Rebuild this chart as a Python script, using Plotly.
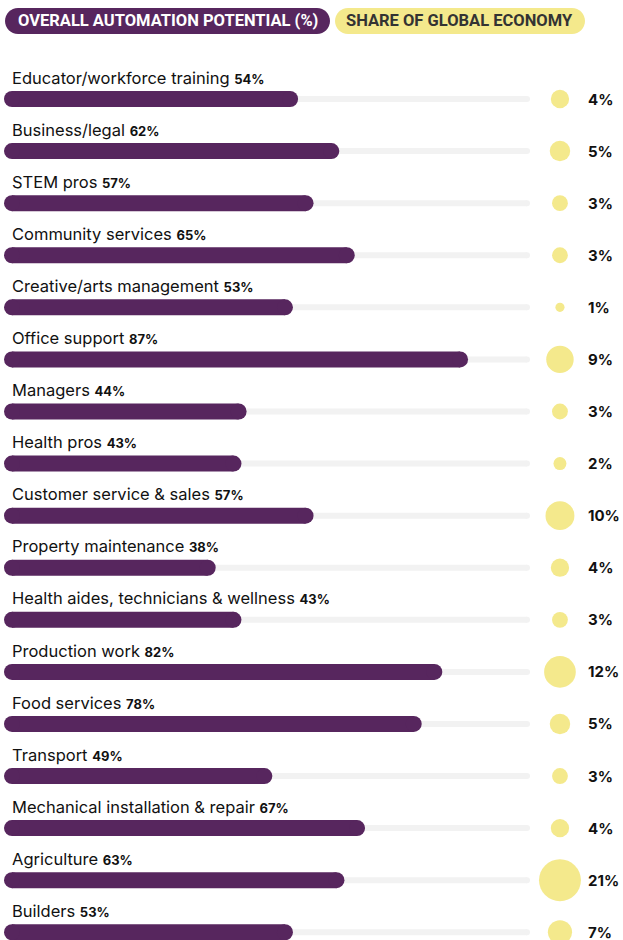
import plotly.graph_objects as go

categories = [
    "Educator/workforce training", "Business/legal", "STEM pros", "Community services",
    "Creative/arts management", "Office support", "Managers", "Health pros",
    "Customer service & sales", "Property maintenance", "Health aides, technicians & wellness",
    "Production work", "Food services", "Transport", "Mechanical installation & repair",
    "Agriculture", "Builders",
]
automation = [54, 62, 57, 65, 53, 87, 44, 43, 57, 38, 43, 82, 78, 49, 67, 63, 53]
share = [4, 5, 3, 3, 1, 9, 3, 2, 10, 4, 3, 12, 5, 3, 4, 21, 7]
legend_labels = ["OVERALL AUTOMATION POTENTIAL (%)", "SHARE OF GLOBAL ECONOMY"]

PURPLE = "#57265e"
YELLOW = "#f4e98c"
TRACK = "#f2f2f2"
W, H = 623, 940

n = len(categories)
rows = list(range(n))

BUBBLE_X = 106.4
VALUE_X = 111.5
FULL = 100

fig = go.Figure()

tx, ty = [], []
for i in rows:
    tx += [0, FULL, None]
    ty += [i, i, None]
fig.add_trace(go.Scatter(x=tx, y=ty, mode="lines+markers",
                         line=dict(color=TRACK, width=6),
                         marker=dict(color=TRACK, size=6),
                         hoverinfo="skip", showlegend=False))

bx, by = [], []
for i, v in zip(rows, automation):
    bx += [0, v, None]
    by += [i, i, None]
fig.add_trace(go.Scatter(x=bx, y=by, mode="lines+markers",
                         line=dict(color=PURPLE, width=16),
                         marker=dict(color=PURPLE, size=16),
                         hoverinfo="skip", showlegend=False))

fig.add_trace(go.Scatter(x=[BUBBLE_X] * n, y=rows, mode="markers",
                         marker=dict(color=YELLOW, size=share, sizemode="area",
                                     sizeref=0.0239, opacity=1, line=dict(width=0)),
                         hoverinfo="skip", showlegend=False))

annotations = []
for i, (c, v, s) in enumerate(zip(categories, automation, share)):
    annotations.append(dict(
        x=-0.35, y=i - 0.41, xref="x", yref="y", xanchor="left", yanchor="middle",
        text=f"{c} <b><span style='font-size:13px'>{v}%</span></b>",
        showarrow=False, font=dict(family="Inter", size=16.5, color="#111111")))
    annotations.append(dict(
        x=VALUE_X, y=i, xref="x", yref="y", xanchor="left", yanchor="middle",
        text=f"<b>{s}%</b>", showarrow=False,
        font=dict(family="Inter", size=15, color="#111111")))


def pill(x0, x1, y0, y1, color):
    r = (y1 - y0) / 2
    k = 0.5523 * r
    yt, yb, ym = -y0, -y1, -(y0 + y1) / 2
    path = (f"M {x0 + r},{yt} L {x1 - r},{yt} "
            f"C {x1 - r + k},{yt} {x1},{ym + k} {x1},{ym} "
            f"C {x1},{ym - k} {x1 - r + k},{yb} {x1 - r},{yb} "
            f"L {x0 + r},{yb} "
            f"C {x0 + r - k},{yb} {x0},{ym - k} {x0},{ym} "
            f"C {x0},{ym + k} {x0 + r - k},{yt} {x0 + r},{yt} Z")
    return dict(type="path", xref="paper", yref="paper", xsizemode="pixel",
                ysizemode="pixel", xanchor=0, yanchor=1, path=path,
                fillcolor=color, line=dict(width=0), layer="above")


shapes = [pill(5, 330, 8, 34, PURPLE), pill(335, 585, 8, 34, YELLOW)]
annotations.append(dict(x=167.5 / W, y=1 - 21 / H, xref="paper", yref="paper",
                        xanchor="center", yanchor="middle", showarrow=False,
                        text=f"<b>{legend_labels[0]}</b>",
                        font=dict(family="Roboto", size=16.5, color="white")))
annotations.append(dict(x=460 / W, y=1 - 21 / H, xref="paper", yref="paper",
                        xanchor="center", yanchor="middle", showarrow=False,
                        text=f"<b>{legend_labels[1]}</b>",
                        font=dict(family="Roboto", size=16.5, color="#333333")))

fig.update_layout(
    width=W, height=H, margin=dict(l=0, r=0, t=0, b=0),
    paper_bgcolor="white", plot_bgcolor="white",
    xaxis=dict(range=[-12 / 5.15, (W - 12) / 5.15], visible=False, fixedrange=True),
    yaxis=dict(range=[(H - 99) / 52.08, -99 / 52.08], visible=False, fixedrange=True),
    shapes=shapes, annotations=annotations, showlegend=False,
)

fig.write_html("out.html")
